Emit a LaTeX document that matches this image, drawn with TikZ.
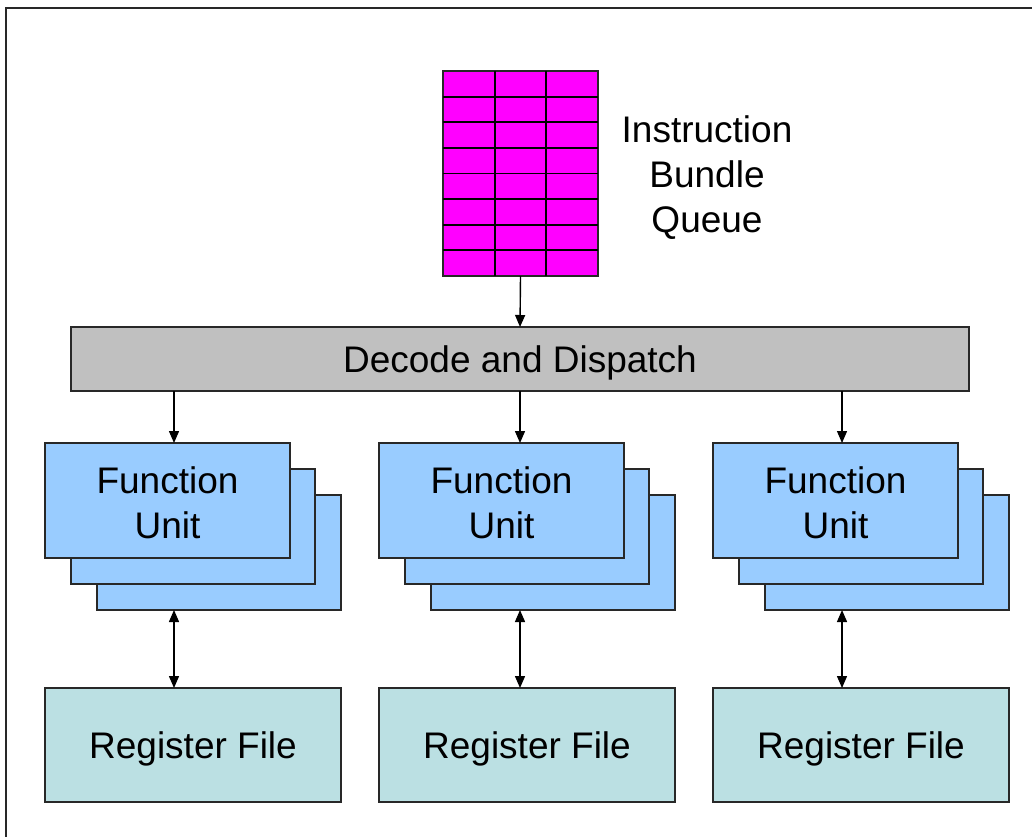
\documentclass[tikz,border=0pt]{standalone}
\usepackage{fontspec}
\setmainfont{Liberation Sans}
\usetikzlibrary{arrows.meta}
\definecolor{qmag}{RGB}{255,0,255}
\definecolor{ddgray}{RGB}{192,192,192}
\definecolor{fublue}{RGB}{153,204,255}
\definecolor{rfcyan}{RGB}{187,224,227}
\definecolor{edge}{RGB}{40,40,40}
\begin{document}
\begin{tikzpicture}[x=1pt,y=-1pt,
  box/.style={draw=edge,line width=1.6pt,inner sep=0pt,outer sep=0pt,anchor=north west},
  lbl/.style={font=\fontsize{37}{45}\selectfont,align=center},
  arr/.style={line width=1.4pt,-{Triangle[length=12pt,width=10pt]}},
  darr/.style={line width=1.4pt,{Triangle[length=12pt,width=10pt]}-{Triangle[length=12pt,width=10pt]}}]
\useasboundingbox (0,0) rectangle (1032,836);
% frame
\draw[line width=2pt,edge] (6,840) -- (6,8) -- (1036,8);
% queue
\node[box,fill=qmag,minimum width=155pt,minimum height=205pt] (q) at (443,71) {};
\foreach \i in {1,2} \draw[line width=1.8pt,black] (443+\i*51.667,71) -- (443+\i*51.667,276);
\foreach \j in {1,...,7} \draw[line width=1.8pt,black] (443,71+\j*25.625) -- (598,71+\j*25.625);
\node[lbl] (ql) at (707,178) {Instruction\\Bundle\\Queue};
% decode
\node[box,fill=ddgray,minimum width=898pt,minimum height=64pt] (dd) at (71,327) {};
\node[lbl] (ddt) at ([yshift=-4pt]dd.center) {Decode and Dispatch};
\draw[arr] (q.south) -- (dd.north);
% groups
\foreach \g/\x/\ax in {1/45/174,2/379/520,3/713/842}{
  \node[box,fill=fublue,minimum width=244pt,minimum height=115pt] (fu\g c) at (\x+52,495) {};
  \node[box,fill=fublue,minimum width=244pt,minimum height=115pt] (fu\g b) at (\x+26,469) {};
  \node[box,fill=fublue,minimum width=245pt,minimum height=115pt] (fu\g a) at (\x,443) {};
  \node[lbl] (fu\g t) at ([yshift=-2pt]fu\g a.center) {Function\\Unit};
  \node[box,fill=rfcyan,minimum width=296pt,minimum height=114pt] (rf\g) at (\x,688) {};
  \node[lbl] (rf\g t) at ([yshift=-4pt]rf\g.center) {Register File};
  \coordinate (x\g) at (\ax,0);
  \draw[arr] (x\g |- dd.south) -- (x\g |- fu\g a.north);
  \draw[darr] (x\g |- fu\g c.south) -- (x\g |- rf\g.north);
}
\end{tikzpicture}
\end{document}
